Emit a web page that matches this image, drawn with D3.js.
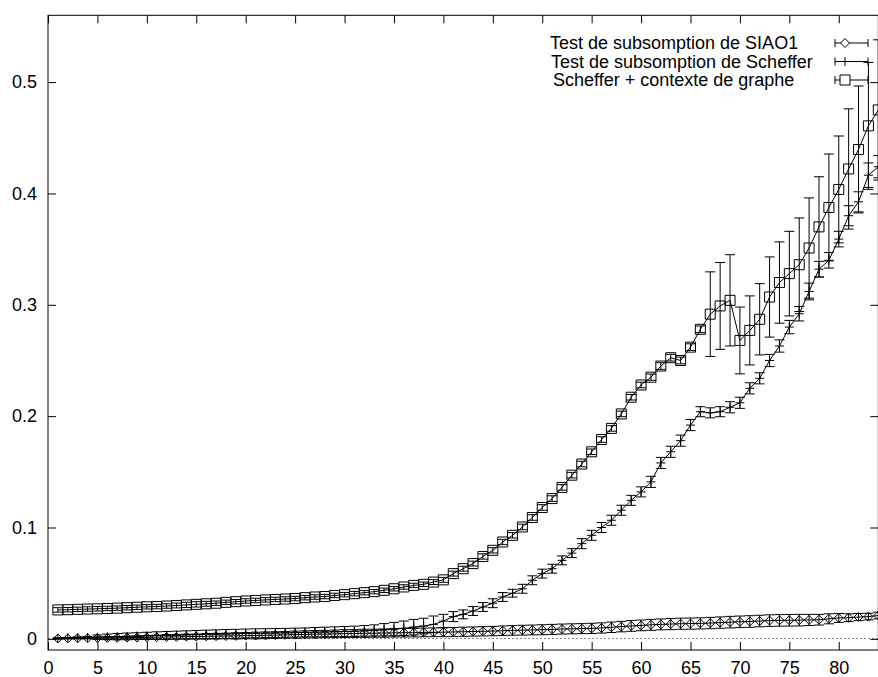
<!DOCTYPE html>
<html>
<head>
<meta charset="utf-8">
<script src="https://cdn.jsdelivr.net/npm/d3@7"></script>
<style>
  html, body { margin: 0; padding: 0; background: #fff; }
  svg { display: block; }
  text { font-family: "Liberation Sans", Arial, Helvetica, sans-serif; }
</style>
</head>
<body>
<svg id="chart" width="878" height="677"></svg>
<script>
// Series names (legend order)
const seriesNames = [
  "Test de subsomption de SIAO1",
  "Test de subsomption de Scheffer",
  "Scheffer + contexte de graphe"
];

// Sample index of the first point; each next value is one step further
const firstX = 1;

// Mean times, SIAO1 subsumption test
const siao1Values = [
  0.0003, 0.0004, 0.0005, 0.0006, 0.0007, 0.0008, 0.0010, 0.0011, 0.0012, 0.0014,
  0.0015, 0.0017, 0.0018, 0.0020, 0.0021, 0.0023, 0.0024, 0.0026, 0.0027, 0.0029,
  0.0030, 0.0032, 0.0034, 0.0036, 0.0038, 0.0040, 0.0042, 0.0043, 0.0045, 0.0047,
  0.0048, 0.0050, 0.0051, 0.0052, 0.0054, 0.0055, 0.0056, 0.0058, 0.0059, 0.0060,
  0.0062, 0.0064, 0.0066, 0.0068, 0.0070, 0.0073, 0.0076, 0.0078, 0.0080, 0.0082,
  0.0085, 0.0088, 0.0090, 0.0092, 0.0094, 0.0098, 0.0104, 0.0110, 0.0116, 0.0121,
  0.0126, 0.0130, 0.0133, 0.0136, 0.0137, 0.0139, 0.0142, 0.0146, 0.0150, 0.0153,
  0.0156, 0.0160, 0.0164, 0.0166, 0.0167, 0.0168, 0.0170, 0.0172, 0.0180, 0.0188,
  0.0190, 0.0196, 0.0200, 0.0210
];
const siao1Errors = [
  0.0005, 0.0005, 0.0005, 0.0005, 0.0008, 0.0010, 0.0010, 0.0012, 0.0012, 0.0015,
  0.0018, 0.0020, 0.0020, 0.0022, 0.0022, 0.0025, 0.0025, 0.0025, 0.0028, 0.0028,
  0.0030, 0.0030, 0.0030, 0.0030, 0.0032, 0.0032, 0.0033, 0.0033, 0.0034, 0.0035,
  0.0035, 0.0036, 0.0036, 0.0037, 0.0037, 0.0038, 0.0038, 0.0039, 0.0039, 0.0040,
  0.0040, 0.0041, 0.0041, 0.0042, 0.0042, 0.0043, 0.0043, 0.0044, 0.0044, 0.0045,
  0.0045, 0.0045, 0.0045, 0.0045, 0.0046, 0.0046, 0.0047, 0.0047, 0.0048, 0.0048,
  0.0049, 0.0049, 0.0050, 0.0050, 0.0050, 0.0050, 0.0051, 0.0051, 0.0052, 0.0052,
  0.0052, 0.0052, 0.0052, 0.0052, 0.0052, 0.0052, 0.0050, 0.0048, 0.0045, 0.0040,
  0.0035, 0.0032, 0.0030, 0.0030
];

// Mean times, Scheffer subsumption test
const schefferValues = [
  0.0005, 0.0008, 0.0010, 0.0012, 0.0015, 0.0018, 0.0020, 0.0022, 0.0025, 0.0027,
  0.0030, 0.0032, 0.0034, 0.0036, 0.0038, 0.0040, 0.0042, 0.0044, 0.0046, 0.0048,
  0.0050, 0.0051, 0.0053, 0.0054, 0.0056, 0.0058, 0.0060, 0.0062, 0.0064, 0.0066,
  0.0068, 0.0072, 0.0076, 0.0082, 0.0088, 0.0095, 0.0105, 0.0115, 0.0130, 0.0160,
  0.0200, 0.0220, 0.0250, 0.0286, 0.0320, 0.0376, 0.0410, 0.0450, 0.0526, 0.0586,
  0.0630, 0.0705, 0.0770, 0.0855, 0.0930, 0.1000, 0.1065, 0.1155, 0.1244, 0.1320,
  0.1410, 0.1580, 0.1680, 0.1780, 0.1920, 0.2040, 0.2030, 0.2040, 0.2080, 0.2120,
  0.2250, 0.2340, 0.2500, 0.2630, 0.2800, 0.2920, 0.3120, 0.3320, 0.3400, 0.3590,
  0.3800, 0.3925, 0.4164, 0.4240
];
const schefferErrors = [
  0.0005, 0.0005, 0.0008, 0.0010, 0.0020, 0.0025, 0.0028, 0.0030, 0.0030, 0.0032,
  0.0033, 0.0034, 0.0035, 0.0036, 0.0037, 0.0038, 0.0039, 0.0040, 0.0040, 0.0040,
  0.0040, 0.0040, 0.0040, 0.0040, 0.0040, 0.0040, 0.0042, 0.0043, 0.0044, 0.0045,
  0.0046, 0.0048, 0.0050, 0.0055, 0.0060, 0.0065, 0.0070, 0.0070, 0.0075, 0.0060,
  0.0045, 0.0040, 0.0040, 0.0040, 0.0040, 0.0040, 0.0035, 0.0040, 0.0040, 0.0040,
  0.0040, 0.0040, 0.0040, 0.0045, 0.0045, 0.0045, 0.0045, 0.0045, 0.0045, 0.0045,
  0.0050, 0.0050, 0.0050, 0.0050, 0.0050, 0.0045, 0.0045, 0.0045, 0.0050, 0.0050,
  0.0050, 0.0050, 0.0055, 0.0055, 0.0060, 0.0065, 0.0075, 0.0070, 0.0070, 0.0070,
  0.0090, 0.0090, 0.0110, 0.0100
];

// Mean times, Scheffer test with graph context
const contextValues = [
  0.0260, 0.0262, 0.0265, 0.0268, 0.0270, 0.0273, 0.0276, 0.0280, 0.0284, 0.0288,
  0.0290, 0.0295, 0.0300, 0.0305, 0.0310, 0.0315, 0.0320, 0.0328, 0.0334, 0.0340,
  0.0345, 0.0350, 0.0354, 0.0358, 0.0362, 0.0370, 0.0376, 0.0380, 0.0390, 0.0397,
  0.0406, 0.0415, 0.0424, 0.0436, 0.0450, 0.0466, 0.0480, 0.0490, 0.0510, 0.0530,
  0.0586, 0.0630, 0.0676, 0.0740, 0.0795, 0.0870, 0.0930, 0.1005, 0.1090, 0.1180,
  0.1260, 0.1360, 0.1470, 0.1570, 0.1680, 0.1790, 0.1890, 0.2020, 0.2170, 0.2280,
  0.2350, 0.2450, 0.2525, 0.2500, 0.2620, 0.2780, 0.2916, 0.2990, 0.3040, 0.2680,
  0.2770, 0.2870, 0.3070, 0.3200, 0.3280, 0.3360, 0.3510, 0.3700, 0.3874, 0.4036,
  0.4220, 0.4395, 0.4607, 0.4750
];
const contextErrors = [
  0.0020, 0.0020, 0.0020, 0.0020, 0.0020, 0.0020, 0.0020, 0.0020, 0.0020, 0.0020,
  0.0020, 0.0020, 0.0022, 0.0024, 0.0024, 0.0022, 0.0020, 0.0020, 0.0020, 0.0020,
  0.0020, 0.0020, 0.0020, 0.0020, 0.0020, 0.0020, 0.0020, 0.0020, 0.0020, 0.0020,
  0.0020, 0.0020, 0.0020, 0.0020, 0.0020, 0.0020, 0.0020, 0.0020, 0.0022, 0.0022,
  0.0022, 0.0022, 0.0022, 0.0024, 0.0024, 0.0024, 0.0024, 0.0025, 0.0025, 0.0025,
  0.0025, 0.0025, 0.0025, 0.0025, 0.0025, 0.0025, 0.0025, 0.0025, 0.0025, 0.0025,
  0.0028, 0.0030, 0.0030, 0.0030, 0.0030, 0.0030, 0.0380, 0.0390, 0.0410, 0.0300,
  0.0310, 0.0320, 0.0360, 0.0365, 0.0380, 0.0420, 0.0450, 0.0450, 0.0480, 0.0480,
  0.0540, 0.0570, 0.0570, 0.0630
];

// Axis ticks
const xTicks = [0, 5, 10, 15, 20, 25, 30, 35, 40, 45, 50, 55, 60, 65, 70, 75, 80];
const yTicks = [0, 0.1, 0.2, 0.3, 0.4, 0.5];
const xDomain = [0, 84];
const yDomain = [-0.01, 0.56];

const svg = d3.select("#chart");
const plot = { left: 48, right: 878.3, top: 15.3, bottom: 650 };

const x = d3.scaleLinear().domain(xDomain).range([plot.left, plot.right]);
const y = d3.scaleLinear().domain(yDomain).range([plot.bottom, plot.top]);

const FONT = 18;
const LEGEND_FONT = 18;

// Zero reference line (dotted)
svg.append("line")
  .attr("x1", plot.left).attr("x2", plot.right)
  .attr("y1", y(0)).attr("y2", y(0))
  .attr("stroke", "#8a8a8a").attr("stroke-width", 1)
  .attr("stroke-dasharray", "2,2")
  .attr("shape-rendering", "crispEdges");

// Axes with inward ticks, mirrored on top and right
function styleAxis(g) {
  g.select(".domain").remove();
  g.selectAll(".tick line").attr("stroke", "#000").attr("stroke-width", 1);
  g.selectAll(".tick text")
    .attr("fill", "#000")
    .attr("font-size", FONT)
    .attr("font-family", "'Liberation Sans', Arial, Helvetica, sans-serif");
}

svg.append("g")
  .attr("transform", `translate(0,${plot.bottom})`)
  .call(d3.axisBottom(x).tickValues(xTicks).tickFormat(d3.format("d"))
    .tickSizeInner(-8).tickSizeOuter(0).tickPadding(11))
  .call(styleAxis);

svg.append("g")
  .attr("transform", `translate(0,${plot.top})`)
  .call(d3.axisTop(x).tickValues(xTicks).tickFormat("")
    .tickSizeInner(-8).tickSizeOuter(0))
  .call(styleAxis);

svg.append("g")
  .attr("transform", `translate(${plot.left},0)`)
  .call(d3.axisLeft(y).tickValues(yTicks).tickFormat(d => d === 0 ? "0" : d3.format(".1f")(d))
    .tickSizeInner(-8).tickSizeOuter(0).tickPadding(11))
  .call(styleAxis);

svg.append("g")
  .attr("transform", `translate(${plot.right},0)`)
  .call(d3.axisRight(y).tickValues(yTicks).tickFormat("")
    .tickSizeInner(-8).tickSizeOuter(0))
  .call(styleAxis);

// Plot border
svg.append("rect")
  .attr("x", plot.left).attr("y", plot.top)
  .attr("width", plot.right - plot.left).attr("height", plot.bottom - plot.top)
  .attr("fill", "none").attr("stroke", "#000").attr("stroke-width", 1);

// Point markers
const markerPaths = {
  diamond: s => `M0,${-s}L${s},0L0,${s}L${-s},0Z`,
  plus: s => `M${-s},0H${s}M0,${-s}V${s}`,
  square: s => `M${-s},${-s}H${s}V${s}H${-s}Z`
};
const markerSize = { diamond: 4.5, plus: 4.5, square: 5 };

const seriesList = [
  { name: seriesNames[0], values: siao1Values, errors: siao1Errors, marker: "diamond" },
  { name: seriesNames[1], values: schefferValues, errors: schefferErrors, marker: "plus" },
  { name: seriesNames[2], values: contextValues, errors: contextErrors, marker: "square" }
];

const capHalf = 5;
const line = d3.line().x(d => x(d.x)).y(d => y(d.v));

seriesList.forEach(s => {
  const pts = s.values.map((v, i) => ({ x: firstX + i, v, e: s.errors[i] }));
  const g = svg.append("g");

  // Error bars
  const eb = g.append("g").attr("stroke", "#000").attr("stroke-width", 1).attr("fill", "none");
  pts.forEach(p => {
    const cx = x(p.x), y1 = y(p.v + p.e), y2 = y(p.v - p.e);
    eb.append("path")
      .attr("d", `M${cx},${y1}V${y2}M${cx - capHalf},${y1}H${cx + capHalf}M${cx - capHalf},${y2}H${cx + capHalf}`);
  });

  // Connecting line
  g.append("path").datum(pts)
    .attr("d", line)
    .attr("fill", "none").attr("stroke", "#000").attr("stroke-width", 1);

  // Markers
  g.append("g").selectAll("path").data(pts).join("path")
    .attr("transform", d => `translate(${x(d.x)},${y(d.v)})`)
    .attr("d", markerPaths[s.marker](markerSize[s.marker]))
    .attr("fill", "none").attr("stroke", "#000").attr("stroke-width", 1);
});

// Legend
const legend = svg.append("g");
const legendTextX = [550, 551, 553];
const legendBaseline = [49, 67.5, 86];
const sampleStart = 835, sampleEnd = 868, sampleMark = 845;
seriesList.forEach((s, i) => {
  const base = legendBaseline[i];
  const cy = base - 6;
  legend.append("text")
    .attr("x", legendTextX[i]).attr("y", base)
    .attr("font-size", LEGEND_FONT).attr("fill", "#000")
    .text(s.name);
  legend.append("path")
    .attr("d", `M${sampleStart},${cy}H${sampleEnd}M${sampleStart},${cy - 4}V${cy + 4}M${sampleEnd},${cy - 4}V${cy + 4}`)
    .attr("stroke", "#000").attr("stroke-width", 1).attr("fill", "none");
  legend.append("path")
    .attr("transform", `translate(${sampleMark},${cy})`)
    .attr("d", markerPaths[s.marker](markerSize[s.marker]))
    .attr("fill", s.marker === "plus" ? "none" : "#fff")
    .attr("stroke", "#000").attr("stroke-width", 1);
});
</script>
</body>
</html>
